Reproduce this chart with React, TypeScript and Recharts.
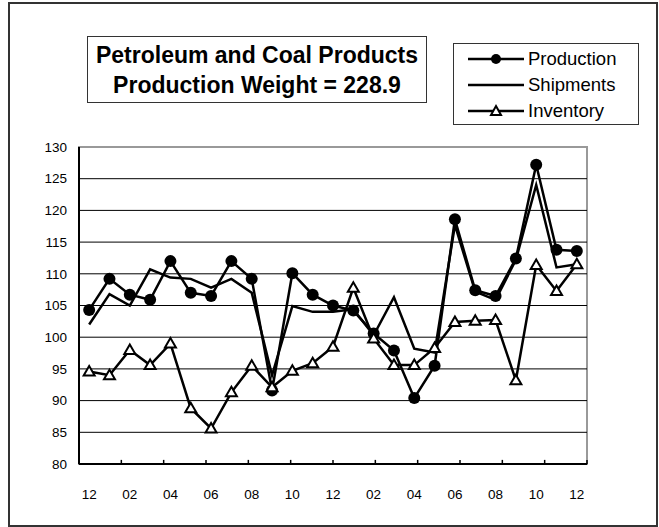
import {
  LineChart,
  Line,
  XAxis,
  YAxis,
  ReferenceLine,
} from 'recharts'

const months = [
  '12', '01', '02', '03', '04', '05', '06', '07', '08', '09', '10', '11',
  '12', '01', '02', '03', '04', '05', '06', '07', '08', '09', '10', '11', '12',
]
const production = [
  104.3, 109.2, 106.7, 105.9, 112.0, 107.0, 106.5, 112.0, 109.2, 91.6, 110.1, 106.7,
  105.0, 104.2, 100.6, 97.9, 90.4, 95.5, 118.6, 107.4, 106.5, 112.4, 127.2, 113.8, 113.6,
]
const shipments = [
  102.0, 106.8, 105.0, 110.7, 109.4, 109.2, 107.8, 109.2, 107.0, 94.0, 104.9, 104.0,
  104.0, 104.4, 100.3, 106.3, 98.2, 97.6, 117.7, 107.2, 105.9, 112.2, 124.0, 111.0, 111.5,
]
const inventory = [
  94.6, 94.0, 98.0, 95.6, 99.0, 88.8, 85.6, 91.3, 95.5, 92.1, 94.7, 95.9,
  98.5, 107.8, 99.8, 95.6, 95.6, 98.3, 102.4, 102.6, 102.7, 93.2, 111.4, 107.3, 111.5,
]
const yTicks = [80, 85, 90, 95, 100, 105, 110, 115, 120, 125, 130]
const gridValues = [85, 90, 95, 100, 105, 110, 115, 120, 125]
const tickBoundaries = [2, 4, 6, 8, 10, 12, 14, 16, 18, 20, 22, 24]

const data = months.map((m, i) => ({
  month: m,
  production: production[i],
  shipments: shipments[i],
  inventory: inventory[i],
}))

const FONT = 'Arial, "Liberation Sans", sans-serif'

function CircleDot(props: any) {
  const { cx, cy, index } = props
  if (cx == null || cy == null) return <g key={index} />
  return <circle key={index} cx={cx} cy={cy} r={6} fill="#000" />
}

function TriangleDot(props: any) {
  const { cx, cy, index } = props
  if (cx == null || cy == null) return <g key={index} />
  return (
    <path
      key={index}
      d={`M${cx},${cy - 5.5} L${cx + 5.5},${cy + 4} L${cx - 5.5},${cy + 4} Z`}
      fill="#fff"
      stroke="#000"
      strokeWidth={2}
    />
  )
}

function LegendRow({ label, marker }: { label: string; marker: 'circle' | 'none' | 'triangle' }) {
  return (
    <div style={{ display: 'flex', alignItems: 'center', height: 26 }}>
      <svg width={58} height={16} style={{ marginLeft: 14 }}>
        <line x1={0} y1={8} x2={56} y2={8} stroke="#000" strokeWidth={2.5} />
        {marker === 'circle' && <circle cx={28} cy={8} r={5} fill="#000" />}
        {marker === 'triangle' && (
          <path d="M28,3 L33,12 L23,12 Z" fill="#fff" stroke="#000" strokeWidth={2} />
        )}
      </svg>
      <span style={{ fontSize: 18.5, marginLeft: 2, lineHeight: '26px' }}>{label}</span>
    </div>
  )
}

export default function App() {
  return (
    <div
      style={{
        position: 'absolute',
        left: 0,
        top: 0,
        width: 659,
        height: 527,
        background: '#fff',
        fontFamily: FONT,
        color: '#000',
      }}
    >
      {/* outer frame */}
      <div
        style={{
          position: 'absolute',
          left: 8,
          top: 2,
          width: 650,
          height: 525,
          border: '2px solid #333',
          boxSizing: 'border-box',
        }}
      />
      {/* plot area border */}
      <div
        style={{
          position: 'absolute',
          left: 78,
          top: 146,
          width: 510,
          height: 319,
          border: '2px solid #999',
          boxSizing: 'border-box',
        }}
      />
      {/* title */}
      <div
        style={{
          position: 'absolute',
          left: 87,
          top: 36,
          width: 340,
          height: 67,
          border: '1.5px solid #333',
          boxSizing: 'border-box',
          textAlign: 'center',
          fontWeight: 'bold',
          fontSize: 23,
          lineHeight: '30px',
          paddingTop: 3,
        }}
      >
        <div>Petroleum and Coal Products</div>
        <div>Production Weight = 228.9</div>
      </div>
      {/* legend */}
      <div
        style={{
          position: 'absolute',
          left: 453,
          top: 43,
          width: 186,
          height: 82,
          border: '1.5px solid #333',
          boxSizing: 'border-box',
          paddingTop: 2,
        }}
      >
        <LegendRow label="Production" marker="circle" />
        <LegendRow label="Shipments" marker="none" />
        <LegendRow label="Inventory" marker="triangle" />
      </div>
      <div style={{ position: 'absolute', left: 0, top: 0 }}>
        <LineChart
          width={659}
          height={527}
          data={data}
          margin={{ top: 147, right: 72, bottom: 18, left: 29 }}
        >
          <XAxis
            dataKey="month"
            interval={1}
            padding={{ left: 10.16, right: 10.16 }}
            tickLine={false}
            tickSize={0}
            tickMargin={25}
            height={45}
            axisLine={{ stroke: '#000', strokeWidth: 2 }}
            tick={{ fill: '#000', fontSize: 13.5, fontFamily: FONT }}
          />
          <XAxis xAxisId="bounds" type="number" domain={[0, 25]} hide />
          <YAxis
            domain={[80, 130]}
            ticks={yTicks}
            width={50}
            tickLine={false}
            tickSize={0}
            tickMargin={12}
            axisLine={{ stroke: '#000', strokeWidth: 2 }}
            tick={{ fill: '#000', fontSize: 13.5, fontFamily: FONT }}
          />
          {gridValues.map((v) => (
            <ReferenceLine key={v} y={v} stroke="#000" strokeWidth={1} />
          ))}
          {tickBoundaries.map((b) => (
            <ReferenceLine
              key={'t' + b}
              xAxisId="bounds"
              segment={[
                { x: b, y: 80 },
                { x: b, y: 80.65 },
              ]}
              stroke="#000"
              strokeWidth={1.5}
            />
          ))}
          <Line
            dataKey="production"
            stroke="#000"
            strokeWidth={2.5}
            dot={CircleDot}
            isAnimationActive={false}
          />
          <Line
            dataKey="shipments"
            stroke="#000"
            strokeWidth={2.5}
            dot={false}
            isAnimationActive={false}
          />
          <Line
            dataKey="inventory"
            stroke="#000"
            strokeWidth={2.5}
            dot={TriangleDot}
            isAnimationActive={false}
          />
        </LineChart>
      </div>
    </div>
  )
}
